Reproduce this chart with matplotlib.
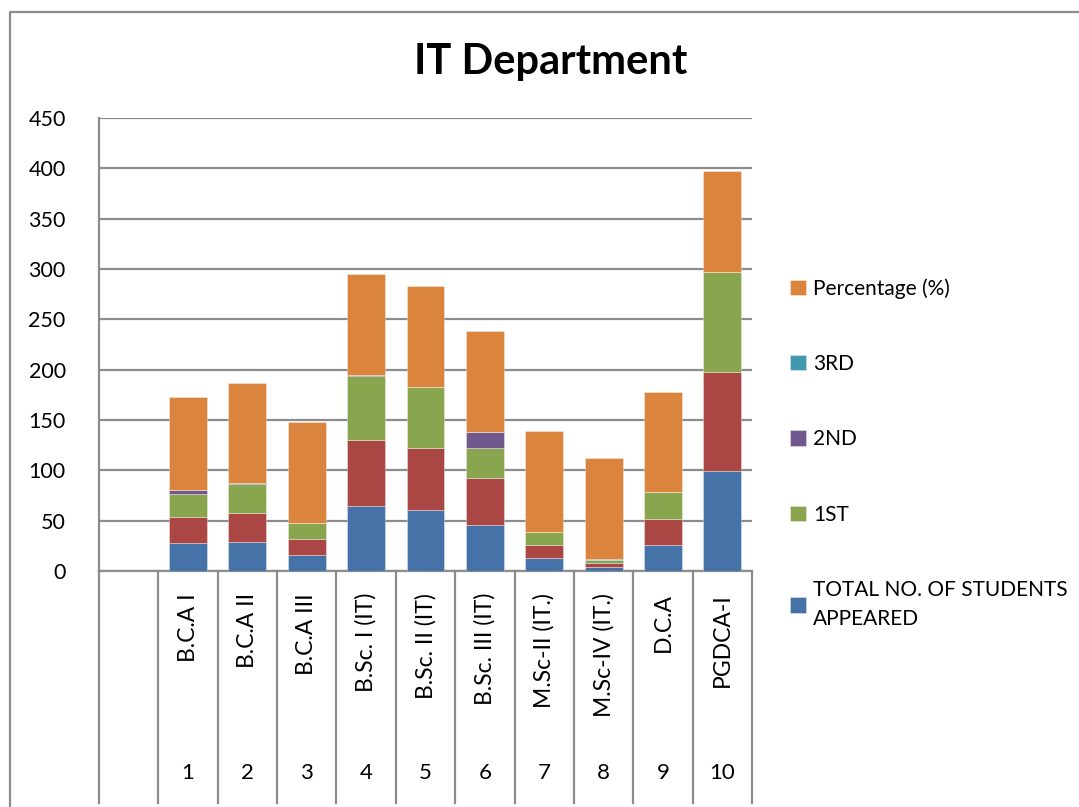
import numpy as np
import matplotlib
matplotlib.use("Agg")
import matplotlib.pyplot as plt
from matplotlib.lines import Line2D
import matplotlib.transforms as mtransforms

plt.rcParams['font.family'] = ['Lato', 'DejaVu Sans']

# data
courses = ["B.C.A I", "B.C.A II", "B.C.A III", "B.Sc. I (IT)", "B.Sc. II (IT)",
           "B.Sc. III (IT)", "M.Sc-II (IT.)", "M.Sc-IV (IT.)", "D.C.A", "PGDCA-I"]
serial = ["1", "2", "3", "4", "5", "6", "7", "8", "9", "10"]

appeared = [28, 29, 16, 65, 61, 46, 13, 4, 26, 99]
passed = [26, 29, 16, 65, 61, 46, 13, 4, 26, 99]
first = [22, 28, 16, 64, 61, 30, 13, 3, 26, 99]
second = [4, 1, 0, 1, 0, 16, 0, 0, 0, 0]
third = [0, 0, 0, 0, 0, 0, 0, 1, 0, 0]
percentage = [92.86, 100, 100, 100, 100, 100, 100, 100, 100, 100]

series = [
    ("TOTAL NO. OF STUDENTS\nAPPEARED", appeared, "#4572A7"),
    ("TOTAL NO. OF STUDENTS PASSED", passed, "#AA4643"),
    ("1ST", first, "#89A54E"),
    ("2ND", second, "#71588F"),
    ("3RD", third, "#4198AF"),
    ("Percentage (%)", percentage, "#DB843D"),
]

W, H = 1079, 807
fig = plt.figure(figsize=(W / 100, H / 100), dpi=100)
ax = fig.add_axes([99 / W, 1 - 571 / H, (752 - 99) / W, (571 - 118) / H])

x = np.arange(1, len(courses) + 1)
bottom = np.zeros(len(courses))
handles = {}
for name, vals, col in series:
    vals = np.array(vals, dtype=float)
    b = ax.bar(x, vals, 0.64, bottom=bottom, color=col, edgecolor=(1, 1, 1, 0.4),
               linewidth=0.6, zorder=3)
    handles[name] = b
    bottom += vals

ax.set_xlim(-0.5, 10.5)
ax.set_ylim(0, 450)
ax.set_yticks(np.arange(0, 451, 50))
ax.grid(axis='y', color='#8c8c8c', linewidth=1.6, zorder=0)
ax.set_xticks([])
ax.tick_params(axis='y', length=0, pad=24, labelsize=15.5)
for s in ['top', 'right']:
    ax.spines[s].set_visible(False)
for s in ['left', 'bottom']:
    ax.spines[s].set_color('#8c8c8c')
    ax.spines[s].set_linewidth(1.6)

# multi-level category axis
trans = mtransforms.blended_transform_factory(ax.transData, ax.transAxes)
depth = -(803 - 571) / (571 - 118)
for b in np.arange(-0.5, 11, 1.0):
    ax.add_line(Line2D([b, b], [0, depth], transform=trans, color='#8c8c8c',
                       linewidth=1.6, clip_on=False))
for xi, name, num in zip(x, courses, serial):
    ax.text(xi, -(593 - 571) / 453, name, rotation=90, ha='center', va='top',
            fontsize=16.5, transform=trans, clip_on=False)
    ax.text(xi, -(773 - 571) / 453, num, ha='center', va='center',
            fontsize=16, transform=trans, clip_on=False)

fig.text(551 / W, 1 - 62 / H, "IT Department", ha='center', va='center',
         fontsize=30, fontweight='bold')

# outer chart border (cropped on right/bottom)
fig.add_artist(Line2D([10 / W, 10 / W, 1], [0, 1 - 12 / H, 1 - 12 / H],
                      transform=fig.transFigure, color='#8c8c8c', linewidth=1.6))

order = ["Percentage (%)", "3RD", "2ND", "1ST", "TOTAL NO. OF STUDENTS\nAPPEARED"]
leg = fig.legend([handles[k] for k in order], order, loc='upper left',
                 bbox_to_anchor=(782 / W, 1 - 270 / H), frameon=False,
                 fontsize=15, handlelength=0.75, handleheight=0.75,
                 handletextpad=0.35, labelspacing=2.65, borderaxespad=0)
leg.get_texts()[-1].set_linespacing(1.55)

fig.savefig("out.png", dpi=100)
